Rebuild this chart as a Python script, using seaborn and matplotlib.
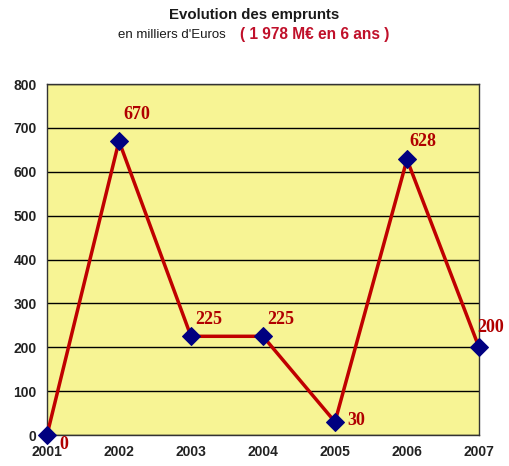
import matplotlib
matplotlib.use("Agg")
import matplotlib.pyplot as plt
import seaborn as sns
import pandas as pd

# Evolution des emprunts (milliers d'Euros)
annees = [2001, 2002, 2003, 2004, 2005, 2006, 2007]
montants = [0, 670, 225, 225, 30, 628, 200]
yticks = [0, 100, 200, 300, 400, 500, 600, 700, 800]

df = pd.DataFrame({"annee": annees, "montant": montants})

sns.set_style("white")
plt.rcParams["font.family"] = ["Liberation Sans", "DejaVu Sans"]

fig = plt.figure(figsize=(5.09, 4.66), dpi=100)
ax = fig.add_axes([0.0923, 0.0665, 0.8487, 0.7532])
ax.set_facecolor("#f7f494")

sns.lineplot(data=df, x="annee", y="montant", ax=ax, color="#c00000", linewidth=2.5,
             marker="D", markersize=9, markerfacecolor="#000080", markeredgecolor="#000080",
             zorder=3, clip_on=False)

ax.set_xlim(2001, 2007)
ax.set_ylim(0, 800)
ax.set_yticks(yticks)
ax.set_xticks(annees)
ax.grid(axis="y", color="black", linewidth=1)
ax.set_axisbelow(True)
for s in ax.spines.values():
    s.set_color("#333333")
    s.set_linewidth(1)
ax.tick_params(axis="both", length=4, width=1, color="black", labelsize=10)
for lbl in ax.get_xticklabels() + ax.get_yticklabels():
    lbl.set_fontweight("bold")
    lbl.set_color("#222222")
ax.set_xlabel("")
ax.set_ylabel("")

# decalage des etiquettes (points)
offsets = {0: (9, -7), 1: (3, 19), 2: (3, 12), 3: (3, 12), 4: (9, 1), 5: (1.5, 13), 6: (-1, 14)}
for i, (a, m) in enumerate(zip(annees, montants)):
    dx, dy = offsets[i]
    ax.annotate(str(m), (a, m), xytext=(dx, dy), textcoords="offset points",
                fontfamily="Liberation Serif", fontweight="bold", fontsize=13,
                color="#b00000", ha="left", va="center", annotation_clip=False, zorder=4)

fig.text(0.5, 0.968, "Evolution des emprunts", ha="center", va="center",
         fontsize=10.8, fontweight="bold", color="#1a1a1a")
fig.text(0.232, 0.925, "en milliers d'Euros", ha="left", va="center", fontsize=9.5, color="#1a1a1a")
fig.text(0.471, 0.925, "( 1 978 M€ en 6 ans )", ha="left", va="center", fontsize=11.2,
         fontweight="bold", color="#c0102a")

fig.savefig("out.png", dpi=100, facecolor="white")
